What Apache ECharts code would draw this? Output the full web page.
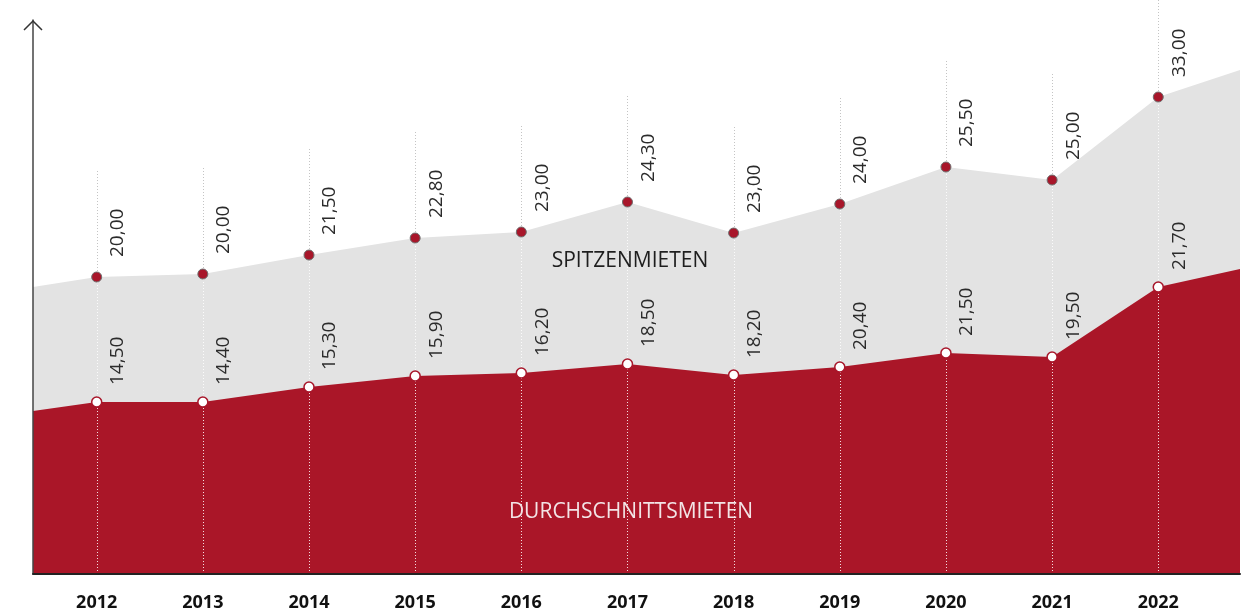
<!DOCTYPE html>
<html>
<head>
<meta charset="utf-8">
<script src="https://cdn.jsdelivr.net/npm/echarts@6/dist/echarts.min.js"></script>
<style>
  html, body { margin: 0; padding: 0; background: #fff; }
  #main { width: 1255px; height: 616px; }
</style>
</head>
<body>
<div id="main"></div>
<script>
const years = ['2012', '2013', '2014', '2015', '2016', '2017', '2018', '2019', '2020', '2021', '2022'];
const spitzenmieten = [20.0, 20.0, 21.5, 22.8, 23.0, 24.3, 23.0, 24.0, 25.5, 25.0, 33.0];
const durchschnittsmieten = [14.5, 14.4, 15.3, 15.9, 16.2, 18.5, 18.2, 20.4, 21.5, 19.5, 21.7];
// Hoehe der Punkte wie gezeichnet (die Grafik ist nicht masstaeblich)
const spitzenHoehe = [297, 300, 319, 336, 342, 372, 341, 370, 407, 394, 477];
const durchHoehe = [172, 172, 187, 198, 201, 210, 199, 207, 221, 217, 287];
// Flaechen laufen links und rechts ueber die Jahre hinaus
const randX = [-0.6, 10.77];
const spitzenRand = [287, 504];
const durchRand = [163, 305];

const fmt = v => v.toFixed(2).replace('.', ',');

function flaeche(hoehe, rand) {
  const d = [[randX[0], rand[0]]];
  hoehe.forEach((h, i) => d.push([i, h]));
  d.push([randX[1], rand[1]]);
  return d;
}

var myChart = echarts.init(document.getElementById('main'));

var option = {
  animation: false,
  grid: { left: 33, right: 15, top: 20, bottom: 42 },
  xAxis: {
    type: 'value',
    min: randX[0],
    max: randX[1],
    z: 5,
    axisLine: { show: true, onZero: false, lineStyle: { color: '#222', width: 2 } },
    axisTick: { show: false },
    splitLine: { show: false },
    axisLabel: {
      customValues: years.map((y, i) => i),
      formatter: v => years[Math.round(v)],
      fontFamily: 'Open Sans',
      fontSize: 18,
      fontWeight: 'bold',
      color: '#111',
      margin: 20
    }
  },
  yAxis: {
    type: 'value',
    min: 0,
    max: 554,
    z: 5,
    axisLine: { show: true, onZero: false, lineStyle: { color: '#444', width: 1.5 } },
    axisTick: { show: false },
    axisLabel: { show: false },
    splitLine: { show: false }
  },
  graphic: [
    {
      type: 'polyline', z: 10,
      shape: { points: [[24, 30], [33, 21], [42, 30]] },
      style: { stroke: '#333', lineWidth: 1.5, fill: null }
    },
    {
      type: 'text', z: 10, x: 630, y: 261,
      style: { text: 'SPITZENMIETEN', font: '21px "Open Sans"', fill: '#1e1e1e', align: 'center', verticalAlign: 'middle' }
    },
    {
      type: 'text', z: 10, x: 631, y: 512,
      style: { text: 'DURCHSCHNITTSMIETEN', font: '21px "Open Sans"', fill: '#f3e4e6', align: 'center', verticalAlign: 'middle' }
    }
  ],
  series: [
    {
      name: 'Spitzenmieten',
      type: 'line',
      z: 1,
      symbol: 'none',
      data: flaeche(spitzenHoehe, spitzenRand),
      lineStyle: { width: 0 },
      areaStyle: { color: '#e3e3e3', opacity: 1 }
    },
    {
      name: 'Durchschnittsmieten',
      type: 'line',
      z: 2,
      symbol: 'none',
      data: flaeche(durchHoehe, durchRand),
      lineStyle: { width: 0 },
      areaStyle: { color: '#aa1628', opacity: 1 }
    },
    {
      // gepunktete Linien und Werte
      type: 'custom',
      z: 3,
      data: years.map((y, i) => [i, spitzenHoehe[i], durchHoehe[i]]),
      renderItem: function (params, api) {
        const i = params.dataIndex;
        const base = api.coord([api.value(0), 0]);
        const top = api.coord([api.value(0), api.value(1)]);
        const bot = api.coord([api.value(0), api.value(2)]);
        const x = Math.round(top[0]) + 0.5;
        return {
          type: 'group',
          children: [
            {
              type: 'line',
              shape: { x1: x, y1: base[1], x2: x, y2: top[1] },
              style: { stroke: 'rgba(255,255,255,0.85)', lineWidth: 1, lineDash: [1, 2] }
            },
            {
              type: 'line',
              shape: { x1: x, y1: top[1], x2: x, y2: top[1] - 106 },
              style: { stroke: '#c4c4c4', lineWidth: 1, lineDash: [1, 2] }
            },
            {
              type: 'text',
              x: top[0] + 21, y: top[1] - 20, rotation: Math.PI / 2,
              style: { text: fmt(spitzenmieten[i]), font: '19px "Open Sans"', fill: '#2b2b2b', align: 'left', verticalAlign: 'middle' }
            },
            {
              type: 'text',
              x: bot[0] + 21, y: bot[1] - 17, rotation: Math.PI / 2,
              style: { text: fmt(durchschnittsmieten[i]), font: '19px "Open Sans"', fill: '#2b2b2b', align: 'left', verticalAlign: 'middle' }
            }
          ]
        };
      }
    },
    {
      type: 'scatter',
      z: 4,
      symbolSize: 10,
      data: years.map((y, i) => [i, spitzenHoehe[i]]),
      itemStyle: { color: '#a8162a', borderColor: '#6e6e6e', borderWidth: 1, opacity: 1 }
    },
    {
      type: 'scatter',
      z: 4,
      symbolSize: 10,
      data: years.map((y, i) => [i, durchHoehe[i]]),
      itemStyle: { color: '#fff', borderColor: '#a8162a', borderWidth: 1.5, opacity: 1 }
    }
  ]
};

myChart.setOption(option);
</script>
</body>
</html>
